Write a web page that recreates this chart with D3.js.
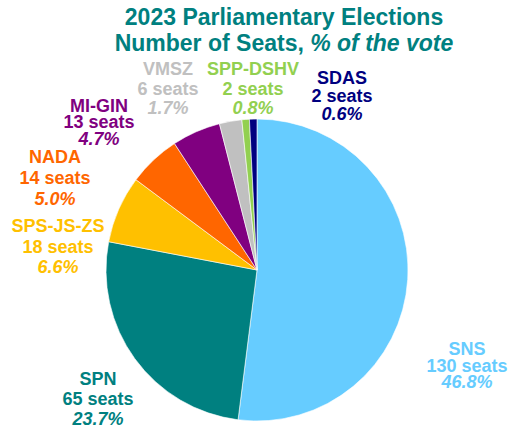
<!DOCTYPE html>
<meta charset="utf-8">
<style>
body { margin: 0; background: #fff; }
text { font-family: "Liberation Sans", Arial, sans-serif; font-weight: bold; }
</style>
<svg width="511" height="432"></svg>
<script src="https://d3js.org/d3.v7.min.js"></script>
<script>
var parties = ["SNS", "SPN", "SPS-JS-ZS", "NADA", "MI-GIN", "VMSZ", "SPP-DSHV", "SDAS"];
var seats = [130, 65, 18, 14, 13, 6, 2, 2];
var votes = ["46.8%", "23.7%", "6.6%", "5.0%", "4.7%", "1.7%", "0.8%", "0.6%"];
var colors = ["#66ccff", "#008080", "#ffc000", "#ff6600", "#800080", "#c0c0c0", "#92d050", "#000080"];

// label placement (centre x, first baseline, line gap)
var labelPos = [[467, 355, 16.5], [98, 385, 20], [58, 232, 20.5], [55, 163, 21],
                [99, 111.5, 16.5], [168, 75, 19.5], [253, 75, 19.5], [342, 84, 18]];

var svg = d3.select("svg"),
    cx = 257, cy = 270, r = 151;

var title = svg.append("text")
    .attr("x", 284)
    .attr("y", 25)
    .attr("text-anchor", "middle")
    .attr("fill", "#008080")
    .style("font-size", "23px");
title.append("tspan").text("2023 Parliamentary Elections");
var t2 = title.append("tspan").attr("x", 284).attr("dy", 26);
t2.append("tspan").text("Number of Seats, ");
t2.append("tspan").style("font-style", "italic").text("% of the vote");

var data = parties.map(function(p, i) {
  return {party: p, seats: seats[i], vote: votes[i], color: colors[i], pos: labelPos[i]};
});

var pie = d3.pie().sort(null).value(function(d) { return d.seats; });
var arc = d3.arc().innerRadius(0).outerRadius(r);

var g = svg.append("g").attr("transform", "translate(" + cx + "," + cy + ")");

g.selectAll("path")
  .data(pie(data))
  .enter().append("path")
    .attr("d", arc)
    .attr("fill", function(d) { return d.data.color; })
    .attr("stroke", "#fff")
    .attr("stroke-width", 0.6);

var labels = svg.selectAll(".lbl")
  .data(data)
  .enter().append("text")
    .attr("class", "lbl")
    .attr("text-anchor", "middle")
    .attr("fill", function(d) { return d.color; })
    .style("font-size", "18px")
    .attr("y", function(d) { return d.pos[1]; });

labels.append("tspan")
    .attr("x", function(d) { return d.pos[0]; })
    .text(function(d) { return d.party; });
labels.append("tspan")
    .attr("x", function(d) { return d.pos[0]; })
    .attr("dy", function(d) { return d.pos[2]; })
    .text(function(d) { return d.seats + " seats"; });
labels.append("tspan")
    .attr("x", function(d) { return d.pos[0]; })
    .attr("dy", function(d) { return d.pos[2]; })
    .style("font-style", "italic")
    .text(function(d) { return d.vote; });
</script>
